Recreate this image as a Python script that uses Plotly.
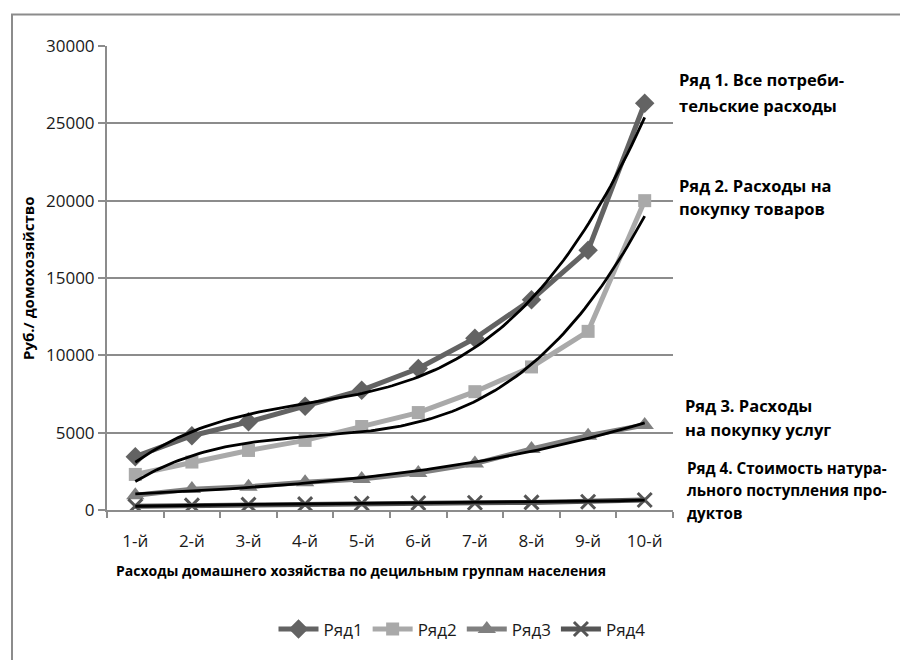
import numpy as np
import plotly.graph_objects as go

# Decile groups of households
groups = ["1-й", "2-й", "3-й", "4-й", "5-й", "6-й", "7-й", "8-й", "9-й", "10-й"]
group_pos = list(range(1, 11))

# Household expenditure, rubles per household
row1 = [3450, 4800, 5700, 6700, 7750, 9150, 11100, 13600, 16800, 26300]  # all consumer spending
row2 = [2300, 3100, 3850, 4500, 5400, 6300, 7650, 9250, 11550, 20000]   # purchase of goods
row3 = [950, 1350, 1500, 1800, 2000, 2400, 3000, 3950, 4800, 5500]       # purchase of services
row4 = [250, 300, 350, 380, 420, 450, 470, 490, 530, 650]                # in-kind receipts

series_names = ["Ряд1", "Ряд2", "Ряд3", "Ряд4"]
y_ticks = [0, 5000, 10000, 15000, 20000, 25000, 30000]
y_tick_text = ["0", "5000", "10000", "15000", "20000", "25000", "30000"]

W, H = 900, 660
ML, MR, MT, MB = 107, 227, 46, 144
PW, PH = W - ML - MR, H - MT - MB


def px_x(px):
    return (px - ML) / PW


def px_y(py):
    return (H - MB - py) / PH


FONT = "Open Sans"
GRID = "#8c8c8c"
TXT = "#1a1a1a"

styles = [
    dict(color="#636363", symbol="diamond", size=15),
    dict(color="#a9a9a9", symbol="square", size=13),
    dict(color="#808080", symbol="triangle-up", size=16),
    dict(color="#555555", symbol="x-thin", size=14),
]

fig = go.Figure()

for name, vals, st in zip(series_names, [row1, row2, row3, row4], styles):
    marker = dict(symbol=st["symbol"], size=st["size"], color=st["color"])
    if st["symbol"] == "x-thin":
        marker["line"] = dict(color=st["color"], width=3)
    fig.add_trace(go.Scatter(
        x=group_pos, y=vals, name=name, mode="lines+markers",
        line=dict(color=st["color"], width=5),
        marker=marker,
    ))

# Cubic polynomial trendlines
xs = np.linspace(1, 10, 120)
for vals in [row1, row2, row3, row4]:
    coef = np.polyfit(group_pos, vals, 3)
    fig.add_trace(go.Scatter(
        x=xs, y=np.polyval(coef, xs), mode="lines",
        line=dict(color="black", width=2.8), showlegend=False, hoverinfo="skip",
    ))

labels = [
    (677, [80, 106], ["Ряд 1. Все потреби-", "тельские расходы"], 16.5),
    (677, [187, 211], ["Ряд 2. Расходы на", "покупку товаров"], 16.5),
    (683, [410, 434], ["Ряд 3. Расходы", "на покупку услуг"], 16.5),
    (685, [473, 496, 519], ["Ряд 4. Стоимость натура-", "льного поступления про-", "дуктов"], 15.2),
]
annotations = []
for x0, ys, lines, fs in labels:
    for yy, txt in zip(ys, lines):
        annotations.append(dict(
            x=px_x(x0), y=px_y(yy), xref="paper", yref="paper", text=txt,
            showarrow=False, xanchor="left", yanchor="middle",
            font=dict(family=FONT, size=fs, color="black", weight="bold"),
        ))

annotations.append(dict(
    x=px_x(361), y=px_y(577), xref="paper", yref="paper",
    text="Расходы домашнего хозяйства по децильным группам населения",
    showarrow=False, xanchor="center", yanchor="middle",
    font=dict(family=FONT, size=14, color="black", weight="bold"),
))
annotations.append(dict(
    x=px_x(28), y=px_y(281), xref="paper", yref="paper",
    text="Руб./ домохозяйство", textangle=-90,
    showarrow=False, xanchor="center", yanchor="middle",
    font=dict(family=FONT, size=15, color="black", weight="bold"),
))

fig.update_layout(
    width=W, height=H,
    margin=dict(l=ML, r=MR, t=MT, b=MB, pad=0),
    paper_bgcolor="white", plot_bgcolor="white",
    font=dict(family=FONT, size=17, color=TXT),
    showlegend=True,
    legend=dict(
        orientation="h", x=px_x(462), y=px_y(637), xanchor="center", yanchor="middle",
        font=dict(family=FONT, size=17, color=TXT), itemwidth=40,
        bgcolor="rgba(0,0,0,0)",
    ),
    annotations=annotations,
    shapes=[dict(
        type="rect", xref="paper", yref="paper",
        x0=px_x(12), y0=px_y(700), x1=px_x(960), y1=px_y(14),
        line=dict(color="#8c8c8c", width=2), fillcolor="rgba(0,0,0,0)", layer="below",
    )],
)

fig.update_xaxes(
    range=[0.5, 10.5], tickvals=group_pos, ticktext=groups, ticks="",
    ticklabelstandoff=15,
    showgrid=False, zeroline=False, showline=True, linecolor=GRID, linewidth=2,
    minor=dict(tickvals=[i + 0.5 for i in range(0, 11)], ticks="outside",
               ticklen=6, tickcolor=GRID, tickwidth=2, showgrid=False),
    tickfont=dict(family=FONT, size=17, color=TXT),
)
fig.update_yaxes(
    range=[0, 30000], tickvals=y_ticks, ticktext=y_tick_text,
    ticks="outside", ticklen=7,
    tickcolor=GRID, tickwidth=2, showgrid=True, gridcolor=GRID, gridwidth=2,
    zeroline=False, showline=True, linecolor=GRID, linewidth=2,
    tickfont=dict(family=FONT, size=17, color=TXT),
)

fig.write_html("out.html")
